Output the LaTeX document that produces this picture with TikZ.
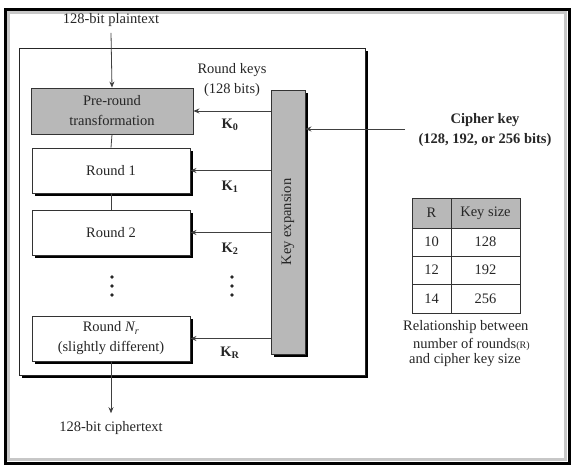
\documentclass[tikz,border=0pt]{standalone}
\usepackage{fontspec}
\setmainfont{Liberation Serif}
\usetikzlibrary{arrows.meta,shadows}
\begin{document}
\begin{tikzpicture}[x=1pt,y=-1pt,
  txt/.style={font=\fontsize{14.5}{20}\selectfont, text=black!85, inner sep=0pt, align=center},
  shadowed/.style={general shadow={fill=black, shadow xshift=3pt, shadow yshift=-3pt}},
  rbox/.style={draw=black!80, line width=0.9pt, minimum width=158pt, minimum height=45pt, fill=white, txt, shadowed},
  arr/.style={-{Stealth[length=6pt,width=5pt]}, draw=black!75, line width=0.8pt},
  conn/.style={draw=black!75, line width=0.8pt},
  keyfill/.style={fill=black!28},
  kl/.style={txt, font=\fontsize{14.5}{20}\selectfont\bfseries},
]
\useasboundingbox (0,0) rectangle (574,466);
% outer frame
\draw[line width=3pt, black] (5,9) rectangle (569,463);
\draw[line width=3pt, black!22] (8.5,12.5) rectangle (565.5,459.5);
% main box
\node[draw=black!85, line width=1pt, fill=white, shadowed, minimum width=346pt, minimum height=327pt, inner sep=0pt] (main) at (192,211.5) {};
% plaintext
\node[txt] (pt) at (111,20) {128-bit plaintext};
% pre-round
\node[draw=black!80, line width=0.9pt, keyfill, minimum width=162pt, minimum height=46pt, txt] (pre) at (112,111) {Pre-round\\transformation};
\node[rbox] (r1) at (111,170.5) {Round 1};
\node[rbox] (r2) at (111,232.5) {Round 2};
\node[rbox] (rn) at (111,338.5) {Round \textit{N\textsubscript{r}}\\(slightly different)};
% key expansion
\node[draw=black!80, line width=0.9pt, keyfill, shadowed, minimum width=34pt, minimum height=264pt, inner sep=0pt] (kx) at (288,222) {};
\node[txt, rotate=90] (kxl) at (kx.center) {Key expansion};
% connectors
\draw[arr] ([yshift=-6pt]pt.south) -- (pre.north);
\draw[conn] (pre.south) -- (r1.north);
\draw[conn] (r1.south) -- (r2.north);
\node[txt] (ct) at (111,428) {128-bit ciphertext};
\draw[arr] (rn.south) -- ([yshift=8pt]ct.north);
% round keys
\node[txt] (rk) at (232,80) {Round keys\\(128 bits)};
\draw[arr] (pre.east -| kx.west) -- (pre.east);
\draw[arr] (r1.east -| kx.west) -- (r1.east);
\draw[arr] (r2.east -| kx.west) -- (r2.east);
\draw[arr] (rn.east -| kx.west) -- (rn.east);
\node[kl] (k0) at (230,125) {K\textsubscript{0}};
\node[kl] (k1) at (230,187) {K\textsubscript{1}};
\node[kl] (k2) at (230,249) {K\textsubscript{2}};
\node[kl] (kr) at (230,353) {K\textsubscript{R}};
% dots
\foreach \xx in {112,232}{
  \foreach \yy in {277,286,295}{
    \fill[black!85] (\xx,\yy) circle (1.8pt);
  }
}
% cipher key
\node[kl] (ck) at (485,130) {Cipher key\\(128, 192, or 256 bits)};
\coordinate (cks) at (405,129);
\draw[arr] (cks) -- (cks -| kx.east);
% table
\fill[black!28] (412,198) rectangle (520,228);
\draw[line width=1pt, black!80] (412,198) rectangle (520,313);
\foreach \yy in {228,256,284}{\draw[line width=1pt, black!80] (412,\yy) -- (520,\yy);}
\draw[line width=1pt, black!80] (451,198) -- (451,313);
\node[txt] (h1) at (431.5,213) {R};
\node[txt] (h2) at (485.5,213) {Key size};
\node[txt] (a1) at (431.5,242) {10};
\node[txt] (a2) at (485.5,242) {128};
\node[txt] (b1) at (431.5,270) {12};
\node[txt] (b2) at (485.5,270) {192};
\node[txt] (c1) at (431.5,298.5) {14};
\node[txt] (c2) at (485.5,298.5) {256};
\node[txt, anchor=west] (cap1) at (403,327) {Relationship between};
\node[txt, anchor=west] (cap2) at (413,344) {number of rounds{\fontsize{10}{12}\selectfont(R)}};
\node[txt, anchor=west] (cap3) at (409,360) {and cipher key size};
\end{tikzpicture}
\end{document}
